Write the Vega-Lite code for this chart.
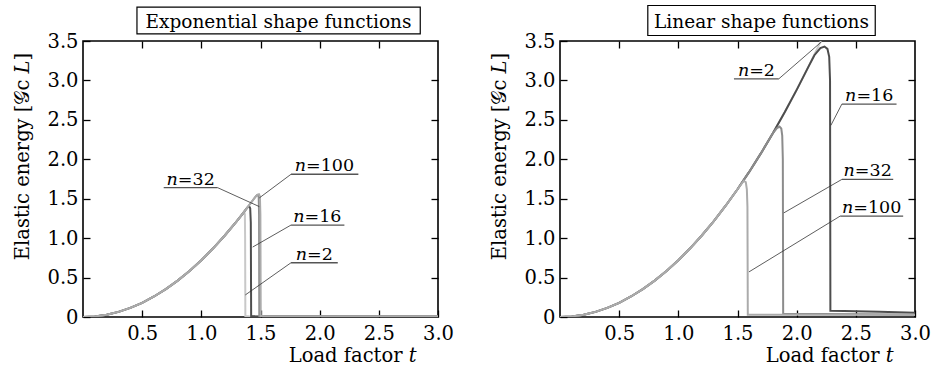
{
  "$schema": "https://vega.github.io/schema/vega-lite/v6.json",
  "padding": {"left": 12, "top": 4, "right": 5, "bottom": 0},
  "spacing": 34,
  "config": {
    "font": "DejaVu Serif",
    "view": {"stroke": "black", "strokeWidth": 1.6},
    "axis": {"grid": false, "domain": false, "tickColor": "black", "tickWidth": 1.3, "tickSize": -7, "labelFontSize": 19.5, "labelColor": "black", "labelPadding": 12, "titleFontSize": 19.5, "titleFontWeight": "normal", "titleColor": "black"}
  },
  "datasets": {
    "exp": [
      {"n":"2","t":0,"E":0},{"n":"2","t":0.1,"E":0.007},{"n":"2","t":0.2,"E":0.029},{"n":"2","t":0.3,"E":0.065},{"n":"2","t":0.4,"E":0.115},{"n":"2","t":0.5,"E":0.18},{"n":"2","t":0.6,"E":0.26},{"n":"2","t":0.7,"E":0.353},{"n":"2","t":0.8,"E":0.461},{"n":"2","t":0.9,"E":0.583},{"n":"2","t":1.0,"E":0.72},{"n":"2","t":1.1,"E":0.871},{"n":"2","t":1.2,"E":1.037},{"n":"2","t":1.3,"E":1.217},{"n":"2","t":1.34,"E":1.29},{"n":"2","t":1.355,"E":1.318},{"n":"2","t":1.363,"E":1.326},{"n":"2","t":1.368,"E":1.3},{"n":"2","t":1.37,"E":1.0},{"n":"2","t":1.372,"E":0.012},{"n":"2","t":1.4,"E":0.008},{"n":"2","t":3.0,"E":0.006},
      {"n":"16","t":0,"E":0},{"n":"16","t":0.1,"E":0.007},{"n":"16","t":0.2,"E":0.029},{"n":"16","t":0.3,"E":0.065},{"n":"16","t":0.4,"E":0.115},{"n":"16","t":0.5,"E":0.18},{"n":"16","t":0.6,"E":0.26},{"n":"16","t":0.7,"E":0.353},{"n":"16","t":0.8,"E":0.461},{"n":"16","t":0.9,"E":0.583},{"n":"16","t":1.0,"E":0.72},{"n":"16","t":1.1,"E":0.871},{"n":"16","t":1.2,"E":1.037},{"n":"16","t":1.3,"E":1.217},{"n":"16","t":1.35,"E":1.312},{"n":"16","t":1.38,"E":1.37},{"n":"16","t":1.395,"E":1.398},{"n":"16","t":1.405,"E":1.402},{"n":"16","t":1.413,"E":1.38},{"n":"16","t":1.418,"E":1.2},{"n":"16","t":1.421,"E":0.012},{"n":"16","t":1.45,"E":0.008},{"n":"16","t":3.0,"E":0.006},
      {"n":"32","t":0,"E":0},{"n":"32","t":0.1,"E":0.007},{"n":"32","t":0.2,"E":0.029},{"n":"32","t":0.3,"E":0.065},{"n":"32","t":0.4,"E":0.115},{"n":"32","t":0.5,"E":0.18},{"n":"32","t":0.6,"E":0.26},{"n":"32","t":0.7,"E":0.353},{"n":"32","t":0.8,"E":0.461},{"n":"32","t":0.9,"E":0.583},{"n":"32","t":1.0,"E":0.72},{"n":"32","t":1.1,"E":0.871},{"n":"32","t":1.2,"E":1.037},{"n":"32","t":1.3,"E":1.217},{"n":"32","t":1.35,"E":1.312},{"n":"32","t":1.4,"E":1.411},{"n":"32","t":1.44,"E":1.49},{"n":"32","t":1.46,"E":1.53},{"n":"32","t":1.472,"E":1.548},{"n":"32","t":1.48,"E":1.548},{"n":"32","t":1.485,"E":1.52},{"n":"32","t":1.488,"E":1.3},{"n":"32","t":1.49,"E":0.012},{"n":"32","t":1.52,"E":0.008},{"n":"32","t":3.0,"E":0.006},
      {"n":"100","t":0,"E":0},{"n":"100","t":0.1,"E":0.007},{"n":"100","t":0.2,"E":0.029},{"n":"100","t":0.3,"E":0.065},{"n":"100","t":0.4,"E":0.115},{"n":"100","t":0.5,"E":0.18},{"n":"100","t":0.6,"E":0.26},{"n":"100","t":0.7,"E":0.353},{"n":"100","t":0.8,"E":0.461},{"n":"100","t":0.9,"E":0.583},{"n":"100","t":1.0,"E":0.72},{"n":"100","t":1.1,"E":0.871},{"n":"100","t":1.2,"E":1.037},{"n":"100","t":1.3,"E":1.217},{"n":"100","t":1.35,"E":1.312},{"n":"100","t":1.4,"E":1.411},{"n":"100","t":1.44,"E":1.49},{"n":"100","t":1.46,"E":1.53},{"n":"100","t":1.475,"E":1.553},{"n":"100","t":1.487,"E":1.558},{"n":"100","t":1.495,"E":1.53},{"n":"100","t":1.499,"E":1.3},{"n":"100","t":1.502,"E":0.012},{"n":"100","t":1.53,"E":0.008},{"n":"100","t":3.0,"E":0.006}
    ],
    "lin": [
      {"n":"2","t":0,"E":0},{"n":"2","t":0.1,"E":0.007},{"n":"2","t":0.2,"E":0.029},{"n":"2","t":0.3,"E":0.065},{"n":"2","t":0.4,"E":0.115},{"n":"2","t":0.5,"E":0.18},{"n":"2","t":0.6,"E":0.26},{"n":"2","t":0.7,"E":0.353},{"n":"2","t":0.8,"E":0.461},{"n":"2","t":0.9,"E":0.583},{"n":"2","t":1.0,"E":0.72},{"n":"2","t":1.1,"E":0.871},{"n":"2","t":1.2,"E":1.037},{"n":"2","t":1.3,"E":1.217},{"n":"2","t":1.4,"E":1.411},{"n":"2","t":1.5,"E":1.62},{"n":"2","t":1.6,"E":1.843},{"n":"2","t":1.7,"E":2.081},{"n":"2","t":1.8,"E":2.333},{"n":"2","t":1.9,"E":2.599},{"n":"2","t":2.0,"E":2.88},{"n":"2","t":2.1,"E":3.175},{"n":"2","t":2.2,"E":3.485},{"n":"2","t":2.3,"E":3.81},
      {"n":"16","t":0,"E":0},{"n":"16","t":0.1,"E":0.007},{"n":"16","t":0.2,"E":0.029},{"n":"16","t":0.3,"E":0.065},{"n":"16","t":0.4,"E":0.115},{"n":"16","t":0.5,"E":0.18},{"n":"16","t":0.6,"E":0.26},{"n":"16","t":0.7,"E":0.353},{"n":"16","t":0.8,"E":0.461},{"n":"16","t":0.9,"E":0.583},{"n":"16","t":1.0,"E":0.72},{"n":"16","t":1.1,"E":0.871},{"n":"16","t":1.2,"E":1.037},{"n":"16","t":1.3,"E":1.217},{"n":"16","t":1.4,"E":1.411},{"n":"16","t":1.5,"E":1.62},{"n":"16","t":1.6,"E":1.843},{"n":"16","t":1.7,"E":2.081},{"n":"16","t":1.8,"E":2.333},{"n":"16","t":1.9,"E":2.599},{"n":"16","t":2.0,"E":2.88},{"n":"16","t":2.1,"E":3.175},{"n":"16","t":2.15,"E":3.32},{"n":"16","t":2.2,"E":3.41},{"n":"16","t":2.235,"E":3.43},{"n":"16","t":2.26,"E":3.4},{"n":"16","t":2.275,"E":3.3},{"n":"16","t":2.282,"E":3.0},{"n":"16","t":2.285,"E":0.08},{"n":"16","t":2.4,"E":0.075},{"n":"16","t":2.7,"E":0.065},{"n":"16","t":3.0,"E":0.055},
      {"n":"32","t":0,"E":0},{"n":"32","t":0.1,"E":0.007},{"n":"32","t":0.2,"E":0.029},{"n":"32","t":0.3,"E":0.065},{"n":"32","t":0.4,"E":0.115},{"n":"32","t":0.5,"E":0.18},{"n":"32","t":0.6,"E":0.26},{"n":"32","t":0.7,"E":0.353},{"n":"32","t":0.8,"E":0.461},{"n":"32","t":0.9,"E":0.583},{"n":"32","t":1.0,"E":0.72},{"n":"32","t":1.1,"E":0.871},{"n":"32","t":1.2,"E":1.037},{"n":"32","t":1.3,"E":1.217},{"n":"32","t":1.4,"E":1.411},{"n":"32","t":1.5,"E":1.62},{"n":"32","t":1.6,"E":1.843},{"n":"32","t":1.7,"E":2.081},{"n":"32","t":1.8,"E":2.333},{"n":"32","t":1.83,"E":2.39},{"n":"32","t":1.855,"E":2.415},{"n":"32","t":1.87,"E":2.39},{"n":"32","t":1.878,"E":2.3},{"n":"32","t":1.883,"E":2.0},{"n":"32","t":1.886,"E":0.04},{"n":"32","t":2.2,"E":0.038},{"n":"32","t":3.0,"E":0.032},
      {"n":"100","t":0,"E":0},{"n":"100","t":0.1,"E":0.007},{"n":"100","t":0.2,"E":0.029},{"n":"100","t":0.3,"E":0.065},{"n":"100","t":0.4,"E":0.115},{"n":"100","t":0.5,"E":0.18},{"n":"100","t":0.6,"E":0.26},{"n":"100","t":0.7,"E":0.353},{"n":"100","t":0.8,"E":0.461},{"n":"100","t":0.9,"E":0.583},{"n":"100","t":1.0,"E":0.72},{"n":"100","t":1.1,"E":0.871},{"n":"100","t":1.2,"E":1.037},{"n":"100","t":1.3,"E":1.217},{"n":"100","t":1.4,"E":1.411},{"n":"100","t":1.5,"E":1.62},{"n":"100","t":1.53,"E":1.68},{"n":"100","t":1.553,"E":1.725},{"n":"100","t":1.57,"E":1.71},{"n":"100","t":1.579,"E":1.62},{"n":"100","t":1.584,"E":1.4},{"n":"100","t":1.587,"E":0.03},{"n":"100","t":2.0,"E":0.028},{"n":"100","t":3.0,"E":0.025}
    ],
    "expAnn": [
      {"label":"𝑛=32","u1":0.682,"u2":1.138,"uv":1.64,"sx":1.138,"ex":1.49,"ey":1.40,"tx":0.91},
      {"label":"𝑛=100","u1":1.758,"u2":2.327,"uv":1.81,"sx":1.758,"ex":1.49,"ey":1.51,"tx":2.04},
      {"label":"𝑛=16","u1":1.758,"u2":2.209,"uv":1.166,"sx":1.758,"ex":1.434,"ey":0.887,"tx":1.98},
      {"label":"𝑛=2","u1":1.758,"u2":2.153,"uv":0.688,"sx":1.758,"ex":1.372,"ey":0.28,"tx":1.955}
    ],
    "linAnn": [
      {"label":"𝑛=2","u1":1.47,"u2":1.849,"uv":3.02,"sx":1.849,"ex":2.21,"ey":3.49,"tx":1.66},
      {"label":"𝑛=16","u1":2.382,"u2":2.844,"uv":2.70,"sx":2.382,"ex":2.289,"ey":2.43,"tx":2.613},
      {"label":"𝑛=32","u1":2.382,"u2":2.816,"uv":1.745,"sx":2.382,"ex":1.891,"ey":1.32,"tx":2.6},
      {"label":"𝑛=100","u1":2.368,"u2":2.9,"uv":1.28,"sx":2.368,"ex":1.597,"ey":0.572,"tx":2.634}
    ],
    "expTitle": [{"label":"Exponential shape functions","t1":0.456,"t2":2.85,"v1":3.59,"v2":3.93,"tc":1.652,"vc":3.66}],
    "linTitle": [{"label":"Linear shape functions","t1":0.742,"t2":2.664,"v1":3.57,"v2":3.95,"tc":1.703,"vc":3.66}]
  },
  "hconcat": [
    {
      "width": 355, "height": 276,
      "resolve": {"axis": {"x": "independent", "y": "independent"}},
      "layer": [
        {
          "data": {"name": "exp"},
          "mark": {"type": "line", "strokeWidth": 2, "clip": true},
          "encoding": {
            "x": {"field": "t", "type": "quantitative", "scale": {"domain": [0, 3], "nice": false},
                  "axis": {"orient": "bottom", "values": [0.5, 1, 1.5, 2, 2.5, 3], "format": ".1f", "labelFlush": false, "labelPadding": 14, "title": "Load factor 𝑡", "titleAlign": "right", "titleAnchor": "end", "titleX": 333, "titleY": 44, "titleBaseline": "alphabetic"}},
            "y": {"field": "E", "type": "quantitative", "scale": {"domain": [0, 3.5], "nice": false},
                  "axis": {"orient": "left", "values": [0, 0.5, 1, 1.5, 2, 2.5, 3, 3.5], "labelExpr": "datum.value == 0 ? '0' : format(datum.value, '.1f')", "title": "Elastic energy [𝒢c 𝐿]", "titleY": 115, "titlePadding": 14}},
            "color": {"field": "n", "type": "nominal", "scale": {"domain": ["2", "16", "32", "100"], "range": ["#c8c8c8", "#4d4d4d", "#8c8c8c", "#ababab"]}, "legend": null}
          }
        },
        {
          "data": {"name": "expAnn"},
          "mark": {"type": "rule", "color": "#333333", "strokeWidth": 0.8},
          "encoding": {
            "x": {"field": "sx", "type": "quantitative", "axis": null},
            "y": {"field": "uv", "type": "quantitative", "axis": null},
            "x2": {"field": "ex"},
            "y2": {"field": "ey"}
          }
        },
        {
          "data": {"name": "expAnn"},
          "mark": {"type": "rule", "color": "#555555", "strokeWidth": 1.3},
          "encoding": {
            "x": {"field": "u1", "type": "quantitative", "axis": null},
            "x2": {"field": "u2"},
            "y": {"field": "uv", "type": "quantitative", "axis": null}
          }
        },
        {
          "data": {"name": "expAnn"},
          "mark": {"type": "text", "fontSize": 17.5, "baseline": "alphabetic", "align": "center", "dy": -3, "color": "black"},
          "encoding": {
            "x": {"field": "tx", "type": "quantitative", "axis": null},
            "y": {"field": "uv", "type": "quantitative", "axis": null},
            "text": {"field": "label"}
          }
        },
        {
          "data": {"name": "expTitle"},
          "mark": {"type": "rect", "fill": "white", "stroke": "black", "strokeWidth": 1.2},
          "encoding": {
            "x": {"field": "t1", "type": "quantitative", "axis": null},
            "x2": {"field": "t2"},
            "y": {"field": "v1", "type": "quantitative", "axis": null},
            "y2": {"field": "v2"}
          }
        },
        {
          "data": {"name": "expTitle"},
          "mark": {"type": "text", "fontSize": 18.5, "baseline": "alphabetic", "align": "center", "color": "black"},
          "encoding": {
            "x": {"field": "tc", "type": "quantitative", "axis": null},
            "y": {"field": "vc", "type": "quantitative", "axis": null},
            "text": {"field": "label"}
          }
        },
        {
          "data": {"name": "exp"},
          "mark": {"type": "point", "opacity": 0, "size": 0},
          "encoding": {
            "x": {"field": "t", "type": "quantitative", "axis": {"orient": "top", "values": [0.5, 1, 1.5, 2, 2.5], "labels": false, "title": null}},
            "y": {"field": "E", "type": "quantitative", "axis": {"orient": "right", "values": [0.5, 1, 1.5, 2, 2.5, 3], "labels": false, "title": null}}
          }
        }
      ]
    },
    {
      "width": 355, "height": 276,
      "resolve": {"axis": {"x": "independent", "y": "independent"}},
      "layer": [
        {
          "data": {"name": "lin"},
          "mark": {"type": "line", "strokeWidth": 2, "clip": true},
          "encoding": {
            "x": {"field": "t", "type": "quantitative", "scale": {"domain": [0, 3], "nice": false},
                  "axis": {"orient": "bottom", "values": [0.5, 1, 1.5, 2, 2.5, 3], "format": ".1f", "labelFlush": false, "labelPadding": 14, "title": "Load factor 𝑡", "titleAlign": "right", "titleAnchor": "end", "titleX": 333, "titleY": 44, "titleBaseline": "alphabetic"}},
            "y": {"field": "E", "type": "quantitative", "scale": {"domain": [0, 3.5], "nice": false},
                  "axis": {"orient": "left", "values": [0, 0.5, 1, 1.5, 2, 2.5, 3, 3.5], "labelExpr": "datum.value == 0 ? '0' : format(datum.value, '.1f')", "title": "Elastic energy [𝒢c 𝐿]", "titleY": 115, "titlePadding": 14}},
            "color": {"field": "n", "type": "nominal", "scale": {"domain": ["2", "16", "32", "100"], "range": ["#c8c8c8", "#555555", "#999999", "#a6a6a6"]}, "legend": null}
          }
        },
        {
          "data": {"name": "linAnn"},
          "mark": {"type": "rule", "color": "#333333", "strokeWidth": 0.8},
          "encoding": {
            "x": {"field": "sx", "type": "quantitative", "axis": null},
            "y": {"field": "uv", "type": "quantitative", "axis": null},
            "x2": {"field": "ex"},
            "y2": {"field": "ey"}
          }
        },
        {
          "data": {"name": "linAnn"},
          "mark": {"type": "rule", "color": "#555555", "strokeWidth": 1.3},
          "encoding": {
            "x": {"field": "u1", "type": "quantitative", "axis": null},
            "x2": {"field": "u2"},
            "y": {"field": "uv", "type": "quantitative", "axis": null}
          }
        },
        {
          "data": {"name": "linAnn"},
          "mark": {"type": "text", "fontSize": 17.5, "baseline": "alphabetic", "align": "center", "dy": -3, "color": "black"},
          "encoding": {
            "x": {"field": "tx", "type": "quantitative", "axis": null},
            "y": {"field": "uv", "type": "quantitative", "axis": null},
            "text": {"field": "label"}
          }
        },
        {
          "data": {"name": "linTitle"},
          "mark": {"type": "rect", "fill": "white", "stroke": "black", "strokeWidth": 1.2},
          "encoding": {
            "x": {"field": "t1", "type": "quantitative", "axis": null},
            "x2": {"field": "t2"},
            "y": {"field": "v1", "type": "quantitative", "axis": null},
            "y2": {"field": "v2"}
          }
        },
        {
          "data": {"name": "linTitle"},
          "mark": {"type": "text", "fontSize": 18.5, "baseline": "alphabetic", "align": "center", "color": "black"},
          "encoding": {
            "x": {"field": "tc", "type": "quantitative", "axis": null},
            "y": {"field": "vc", "type": "quantitative", "axis": null},
            "text": {"field": "label"}
          }
        },
        {
          "data": {"name": "lin"},
          "mark": {"type": "point", "opacity": 0, "size": 0},
          "encoding": {
            "x": {"field": "t", "type": "quantitative", "axis": {"orient": "top", "values": [0.5, 1, 1.5, 2, 2.5], "labels": false, "title": null}},
            "y": {"field": "E", "type": "quantitative", "axis": {"orient": "right", "values": [0.5, 1, 1.5, 2, 2.5, 3], "labels": false, "title": null}}
          }
        }
      ]
    }
  ]
}
